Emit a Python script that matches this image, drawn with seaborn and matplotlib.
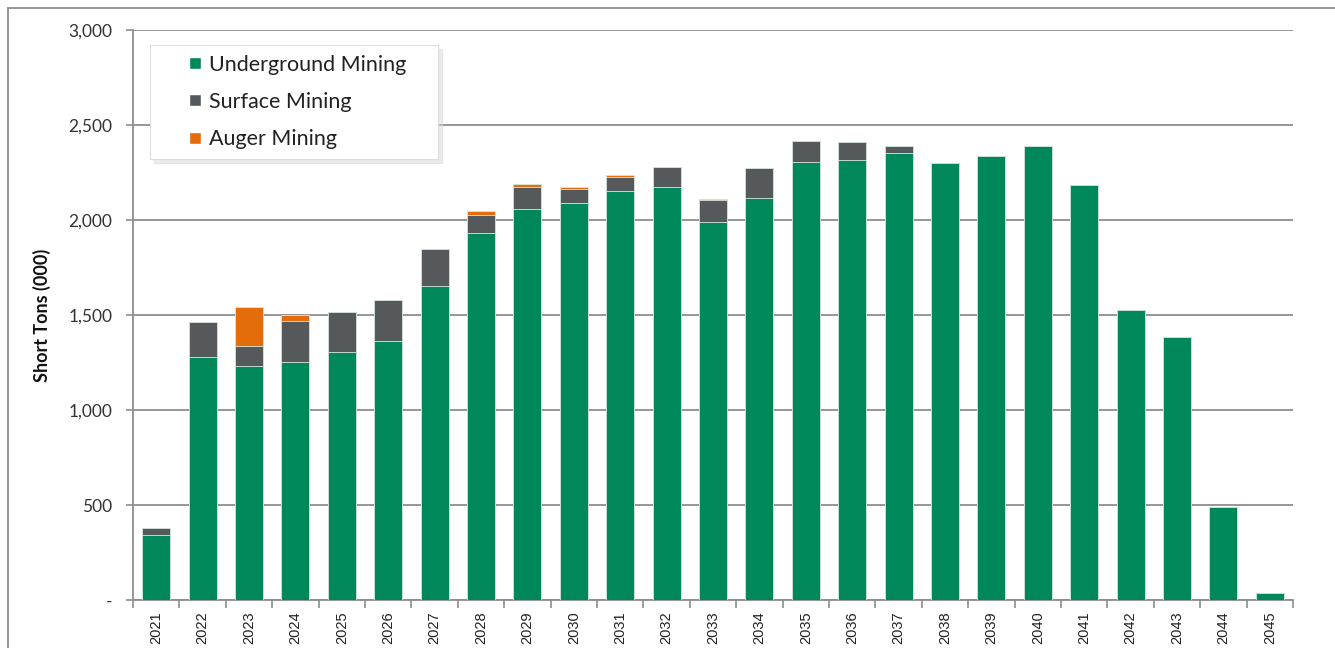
import matplotlib
matplotlib.use("Agg")
import matplotlib.pyplot as plt
from matplotlib.patches import Patch, Rectangle
from matplotlib.legend_handler import HandlerPatch
from matplotlib.ticker import FixedLocator, FuncFormatter
import numpy as np
import pandas as pd
import seaborn as sns

years = [str(y) for y in range(2021, 2046)]
underground = [342, 1277, 1233, 1254, 1304, 1363, 1654, 1930, 2056, 2088, 2151, 2174, 1991,
               2117, 2304, 2317, 2351, 2298, 2339, 2389, 2186, 1526, 1386, 489, 35]
surface = [38, 184, 104, 216, 212, 216, 193, 96, 119, 75, 77, 105, 115,
           157, 112, 95, 38, 0, 0, 0, 0, 0, 0, 0, 0]
auger = [0, 0, 203, 28, 0, 0, 0, 21, 14, 12, 10, 0, 5,
         0, 0, 0, 0, 0, 0, 0, 0, 0, 0, 0, 0]

green = "#00875A"
grey = "#55595C"
orange = "#E46C0A"

df = pd.DataFrame({"year": years, "Underground Mining": underground,
                   "Surface Mining": surface, "Auger Mining": auger})
df["lvl1"] = df["Underground Mining"]
df["lvl2"] = df["lvl1"] + df["Surface Mining"]
df["lvl3"] = df["lvl2"] + df["Auger Mining"]

sns.set_style("white")
plt.rcParams["font.family"] = ["Lato", "DejaVu Sans"]

fig = plt.figure(figsize=(13.35, 6.48), dpi=100)
ax = fig.add_axes([133 / 1335, 1 - 600 / 648, 1160 / 1335, 570 / 648])

# stacked look: draw cumulative totals back to front
for col, c in [("lvl3", orange), ("lvl2", grey), ("lvl1", green)]:
    sns.barplot(data=df, x="year", y=col, color=c, width=0.6, saturation=1,
                edgecolor="#d9e8e0", linewidth=0.6, ax=ax, zorder=3)

ax.set_ylim(0, 3000)
ax.set_xlim(-0.5, len(years) - 0.5)
ax.set_yticks(np.arange(0, 3001, 500))
ax.yaxis.set_major_formatter(FuncFormatter(lambda v, p: "-" if v == 0 else f"{int(v):,}"))
ax.grid(axis="y", color="#8e8e8e", linewidth=1.3, zorder=0)
ax.set_axisbelow(True)

for s in ["top", "right"]:
    ax.spines[s].set_visible(False)
for s in ["left", "bottom"]:
    ax.spines[s].set_color("#8e8e8e")
    ax.spines[s].set_linewidth(1.3)

ax.tick_params(axis="y", which="major", length=5, width=1.2, color="#8e8e8e",
               labelsize=12.5, labelcolor="#333333", pad=10, left=True, direction="out")
ax.tick_params(axis="x", which="major", length=0, labelsize=10.5, labelcolor="#222222",
               rotation=90, pad=8)
ax.xaxis.set_minor_locator(FixedLocator(np.arange(-0.5, len(years), 1)))
ax.tick_params(axis="x", which="minor", length=6, width=1.2, color="#8e8e8e",
               bottom=True, direction="out")
for lab in ax.get_xticklabels():
    lab.set_family(["Liberation Sans", "DejaVu Sans"])

ax.set_xlabel("")
ax.set_ylabel("Short Tons (000)", fontsize=13, fontweight="bold", color="#111111", labelpad=12)


def square_right(legend, orig_handle, xdescent, ydescent, width, height, fontsize):
    s = 0.55 * fontsize
    return Rectangle((-xdescent + width - s, -ydescent + (height - s) / 2), s, s)


handles = [Patch(facecolor=green, label="Underground Mining"),
           Patch(facecolor=grey, label="Surface Mining"),
           Patch(facecolor=orange, label="Auger Mining")]
leg = ax.legend(handles=handles, loc="upper left", mode="expand",
                bbox_to_anchor=(17 / 1160, 0, 288 / 1160, 555 / 570),
                fontsize=15.5, frameon=True, fancybox=False,
                shadow={"color": "0.85", "ox": 3, "oy": -3},
                handlelength=1.9, handleheight=0.7, handletextpad=0.37, labelspacing=0.8,
                borderpad=0.45, borderaxespad=0, edgecolor="#dddddd", framealpha=1,
                labelcolor="#222222",
                handler_map={Patch: HandlerPatch(patch_func=square_right)})
leg.get_frame().set_linewidth(0.8)
leg.set_zorder(5)

# outer chart-area border (only top and left edges fall inside the image)
fig.patches.append(Rectangle((7.5 / 1335, -10 / 648), 1400 / 1335, 650.5 / 648,
                             transform=fig.transFigure, fill=False,
                             edgecolor="#8e8e8e", linewidth=1.3))

fig.savefig("out.png", dpi=100)
